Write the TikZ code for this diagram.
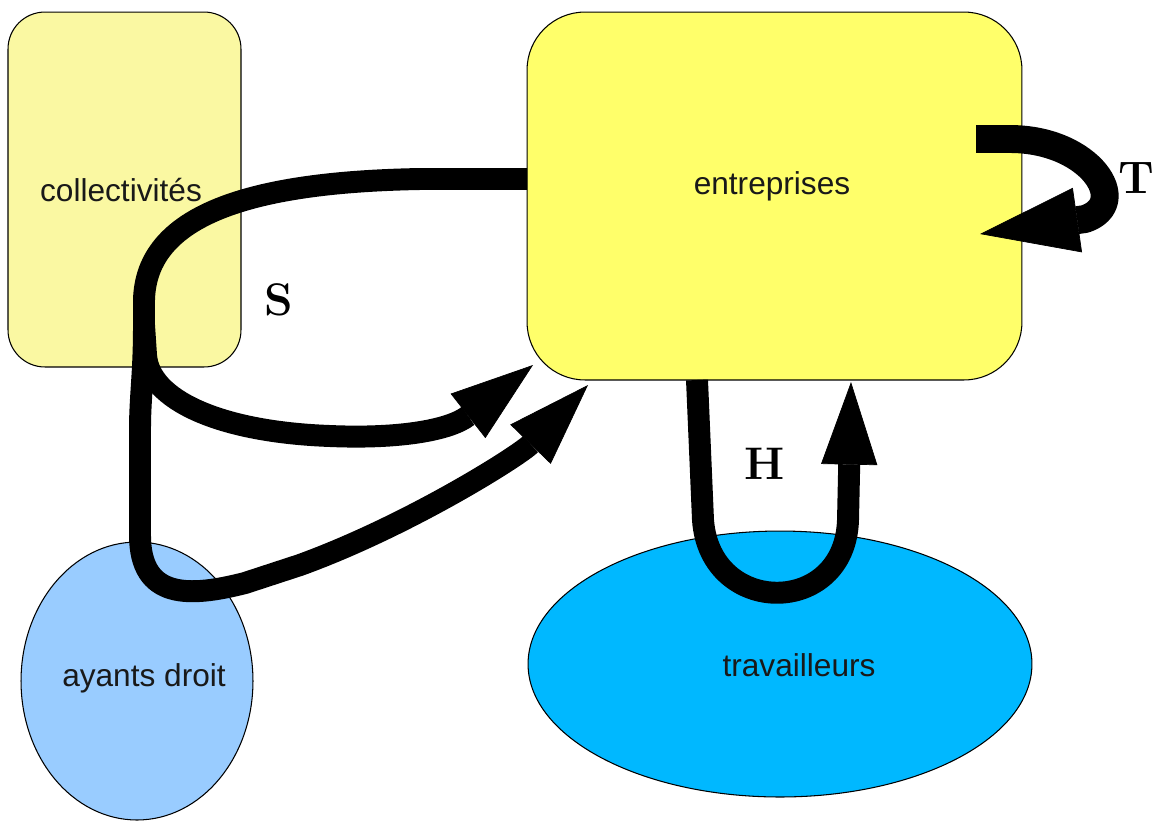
\documentclass[tikz,border=0pt]{standalone}
\usepackage{fontspec}
\newfontfamily\boxfont{Liberation Sans}
\usetikzlibrary{shapes.geometric,arrows.meta}

\definecolor{collfill}{HTML}{FAF8A2}
\definecolor{entfill}{HTML}{FFFF6A}
\definecolor{ayfill}{HTML}{99CCFF}
\definecolor{travfill}{HTML}{00B8FF}

\tikzset{
  box/.style={draw=black, line width=0.6pt, inner sep=0pt},
  blob/.style={ellipse, draw=black, line width=0.6pt, inner sep=0pt},
  boxtext/.style={font=\boxfont\fontsize{18}{21}\selectfont, text=black!90, inner sep=0pt},
  flowlbl/.style={font=\bfseries\fontsize{26}{30}\selectfont, inner sep=0pt},
  shaft/.style={line width=12.5pt, black, line join=round},
  fatshaft/.style={line width=15.9pt, black, line join=round},
  bigtip/.style={-{Triangle[length=47pt,width=32pt,line width=0.4pt]}},
  fattip/.style={-{Triangle[length=56pt,width=37pt,line width=0.4pt]}},
}

\begin{document}
\begin{tikzpicture}[x=0.02cm, y=-0.02cm]
  \fill[white] (0,0) rectangle (1159,823);
  \useasboundingbox (0,0) rectangle (1159,823);

  % the four actors
  \node[box, fill=collfill, rounded corners=21pt,
        minimum width=4.66cm, minimum height=7.1cm] (coll) at (124.5,189.5) {};
  \node[box, fill=entfill, rounded corners=33pt,
        minimum width=9.9cm, minimum height=7.36cm] (ent) at (774.5,196) {};
  \node[blob, fill=ayfill, minimum width=4.64cm, minimum height=5.56cm] (ay) at (137,681) {};
  \node[blob, fill=travfill, minimum width=10.08cm, minimum height=5.32cm] (trav) at (780,664) {};

  \node[boxtext] (coll-txt) at (121,190) {collectivités};
  \node[boxtext] (ent-txt) at (772,186) {entreprises};
  \node[boxtext] (ay-txt) at (144,678) {ayants droit};
  \node[boxtext] (trav-txt) at (799,665) {travailleurs};

  % end points of the flows
  \coordinate (sStart) at (527,179);
  \coordinate (sFork) at (144,325);
  \coordinate (s1Tip) at (533,365);
  \coordinate (s2Tip) at (588,385);
  \coordinate (hStart) at (697,380);
  \coordinate (hTip) at (851,382);
  \coordinate (tStart) at (976,139);
  \coordinate (tTip) at (980,234);

  % S : from entreprises round through collectivites and back
  \draw[shaft, bigtip] (sStart) -- (420,179)
     .. controls (250,182) and (146,215) .. (144,300) -- (sFork) -- (146,355)
     .. controls (149,400) and (220,432) .. (330,436)
     .. controls (400,439) and (450,430) .. (s1Tip);
  % S : second branch through ayants droit
  \draw[shaft, bigtip] (sFork) .. controls (144,375) and (140,395) .. (140,430)
     -- (140,535)
     .. controls (140,600) and (190,597) .. (245,583) -- (300,565)
     .. controls (410,525) and (520,455) .. (s2Tip);

  % H : entreprises -> travailleurs -> entreprises
  \draw[shaft, bigtip] (hStart) -- (703,520)
     .. controls (710,617) and (845,617) .. (848,520) -- (hTip);

  % T : loop back into entreprises
  \draw[fatshaft, fattip] (tStart) -- (1010,139)
     .. controls (1090,139) and (1132,203) .. (1085,219) -- (tTip);

  % flow labels
  \node[flowlbl] (S) at (279,300) {S};
  \node[flowlbl] (H) at (765,464) {H};
  \node[flowlbl] (T) at (1136,178) {T};
\end{tikzpicture}
\end{document}
